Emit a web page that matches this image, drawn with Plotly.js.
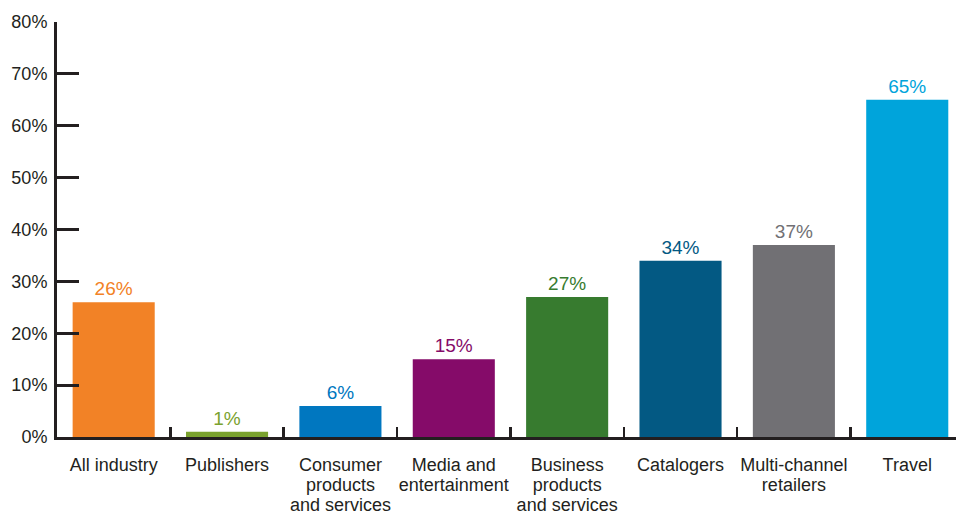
<!DOCTYPE html>
<html>
<head>
<meta charset="utf-8">
<script src="https://cdn.plot.ly/plotly-3.0.1.min.js"></script>
<style>
html,body{margin:0;padding:0;background:#fff;}
#chart{width:956px;height:516px;}
</style>
</head>
<body>
<div id="chart"></div>
<script>
var categories = ["All industry", "Publishers", "Consumer<br>products<br>and services", "Media and<br>entertainment", "Business<br>products<br>and services", "Catalogers", "Multi-channel<br>retailers", "Travel"];
var values = [26, 1, 6, 15, 27, 34, 37, 65];
var valueLabels = ["26%", "1%", "6%", "15%", "27%", "34%", "37%", "65%"];
var barColors = ["#f28226", "#7aa22e", "#0077c0", "#850b69", "#377b2f", "#035983", "#717074", "#00a4db"];
var yTickVals = [0, 10, 20, 30, 40, 50, 60, 70, 80];
var yTickText = ["0%", "10%", "20%", "30%", "40%", "50%", "60%", "70%", "80%"];

var font = "Liberation Sans, Arial, Helvetica, sans-serif";
var axisColor = "#231f20";
var textColor = "#231f20";
var xRange = [-0.5, 7.43];

var trace = {
  type: "bar",
  x: categories,
  y: values,
  text: valueLabels,
  textposition: "outside",
  textfont: {family: font, size: 19, color: barColors},
  marker: {color: barColors},
  cliponaxis: false,
  hoverinfo: "none"
};

// category labels split into lines, each line drawn by its own overlaid axis (tighter line spacing)
var catIndex = categories.map(function (c, i) { return i; });
var lineSets = [0, 1, 2].map(function (k) {
  return categories.map(function (c) { var p = c.split("<br>"); return p[k] || ""; });
});
var standoffs = [15, 35, 55];

var data = [trace];
var layout = {
  width: 956,
  height: 516,
  margin: {l: 57, r: 0, t: 22, b: 79},
  paper_bgcolor: "#ffffff",
  plot_bgcolor: "#ffffff",
  showlegend: false,
  bargap: 0.276,
  font: {family: font, size: 18, color: textColor},
  xaxis: {
    type: "category",
    range: xRange,
    showgrid: false,
    zeroline: false,
    showline: true,
    linecolor: axisColor,
    linewidth: 2.5,
    ticks: "inside",
    tickson: "boundaries",
    ticklen: 10,
    tickwidth: 2.5,
    tickcolor: axisColor,
    showticklabels: false,
    automargin: false,
    fixedrange: true
  },
  yaxis: {
    range: [0, 80],
    tickvals: yTickVals,
    ticktext: yTickText,
    showgrid: false,
    zeroline: false,
    showline: true,
    linecolor: axisColor,
    linewidth: 3,
    ticks: "inside",
    ticklen: 22,
    tickwidth: 3,
    tickcolor: axisColor,
    ticklabelstandoff: 3,
    automargin: false,
    tickfont: {family: font, size: 18, color: textColor},
    fixedrange: true
  }
};

lineSets.forEach(function (lines, k) {
  var name = "xaxis" + (k + 2);
  data.push({type: "scatter", x: [], y: [], xaxis: "x" + (k + 2), yaxis: "y", hoverinfo: "none", showlegend: false});
  layout[name] = {
    type: "linear",
    overlaying: "x",
    anchor: "y",
    side: "bottom",
    range: xRange,
    tickmode: "array",
    tickvals: catIndex,
    ticktext: lines,
    tickangle: 0,
    ticks: "",
    showline: false,
    showgrid: false,
    zeroline: false,
    ticklabelstandoff: standoffs[k],
    automargin: false,
    tickfont: {family: font, size: 18, color: textColor},
    fixedrange: true
  };
});

Plotly.newPlot("chart", data, layout, {displayModeBar: false, staticPlot: true});
</script>
</body>
</html>
